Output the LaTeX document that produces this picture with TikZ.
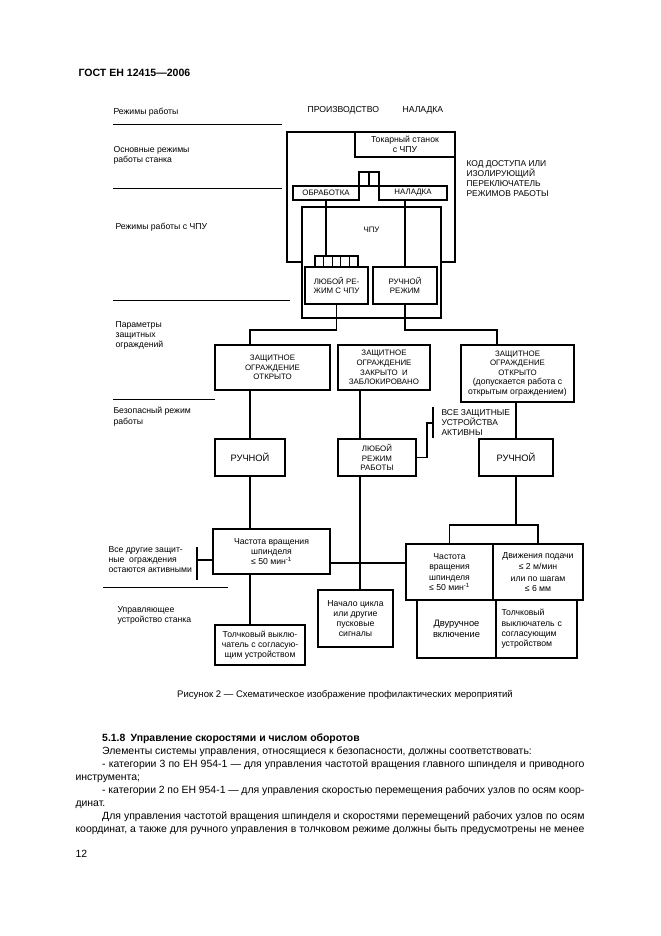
\documentclass[tikz,border=0pt]{standalone}
\usepackage{fontspec}
\setmainfont{Liberation Sans}
\newcommand\petit{\fontsize{7.1}{8.6}\selectfont}
\newcommand\moyen{\fontsize{7.8}{9.2}\selectfont}
\newcommand\gros{\fontsize{8.4}{10}\selectfont}
\newcommand\corps{\fontsize{9.4}{11.7}\selectfont}
\begin{document}
\begin{tikzpicture}[x=0.9pt,y=-0.9pt,line width=1pt,
    boite/.style 2 args={draw,fill=white,inner sep=1pt,minimum width=#1*0.9pt,minimum height=#2*0.9pt,align=center,font=\petit},
    legende/.style={anchor=north west,inner sep=0pt,align=left,font=\moyen},
    regle/.style={line width=0.8pt}]
\fill[white] (0,0) rectangle (661,936);
\useasboundingbox (0,0) rectangle (661,936);
\node[anchor=north west,inner sep=0pt,font=\fontsize{9.5}{11}\selectfont\bfseries] (gost) at (78,69) {ГОСТ ЕН 12415—2006}; %En-tete
% colonne de gauche
\node[legende] (l1) at (113,108) {Режимы работы};
\node[legende] (l2) at (113,146) {Основные режимы\\работы станка};
\node[legende] (l3) at (115,223) {Режимы работы с ЧПУ};
\node[legende] (l4) at (115,321) {Параметры\\защитных\\ограждений};
\node[legende] (l5) at (113,407) {Безопасный режим\\работы};
\node[legende] (l6) at (108,546) {Все другие защит-\\ные\ \ ограждения\\остаются активными};
\node[legende] (l7) at (117,606) {Управляющее\\устройство станка};
\draw[regle] (113,124) -- (282,124);
\draw[regle] (113,188) -- (282,188);
\draw[regle] (113,300) -- (290,300);
\draw[regle] (113,399) -- (215,399);
\draw[regle] (103,587) -- (228,587);
% modes du tour
\node[legende] (prod) at (307,106) {ПРОИЗВОДСТВО};
\node[legende] (nal) at (402,106) {НАЛАДКА};
\node[boite={168}{130}] (cadre) at (371,197) {}; %Cadre principal
\node[boite={100}{25},font=\moyen] (tokar) at (405,144.5) {Токарный станок\\с ЧПУ};
\node[boite={66}{14}] (obrab) at (326,193) {ОБРАБОТКА};
\node[boite={68}{14}] (nalad) at (413,193) {НАЛАДКА};
\foreach \i in {1,2} \node[boite={10}{14}] (s\i) at ({354+10*\i},179) {}; %Commutateur
\node[legende,font=\fontsize{7.6}{9}\selectfont] (code) at (466,160) {КОД ДОСТУПА ИЛИ\\ИЗОЛИРУЮЩИЙ\\ПЕРЕКЛЮЧАТЕЛЬ\\РЕЖИМОВ РАБОТЫ};
% CN
\node[boite={139}{111},label={[anchor=north,yshift=-15pt,font=\petit]north:ЧПУ}] (cnc) at (371.5,262.5) {};
\node[boite={63}{37}] (ljuboj) at (336.5,285.5) {ЛЮБОЙ РЕ-\\ЖИМ С ЧПУ};
\node[boite={64}{37}] (ruchrez) at (405,285.5) {РУЧНОЙ\\РЕЖИМ};
\foreach \i in {1,...,5} \node[boite={8.6}{11}] (k\i) at ({310.7+8.6*\i},261.5) {};
\draw (obrab.south) -- (obrab.south |- k1.north);
\draw (nalad.south -| ruchrez.north) -- (ruchrez.north);
% protecteurs
\coordinate (busg) at (250,330);
\coordinate (busd) at (497,330);
\node[boite={115}{45}] (zashch1) at (272.5,367.5) {ЗАЩИТНОЕ\\ОГРАЖДЕНИЕ\\ОТКРЫТО};
\node[boite={92}{45}] (zashch2) at (384,367.5) {ЗАЩИТНОЕ\\ОГРАЖДЕНИЕ\\ЗАКРЫТО\ \ И\\ЗАБЛОКИРОВАНО};
\node[boite={113}{57}] (zashch3) at (517.5,373.5) {ЗАЩИТНОЕ\\ОГРАЖДЕНИЕ\\ОТКРЫТО\\{\moyen(допускается работа с}\\{\moyen открытым ограждением)}};
\draw (ljuboj.south) |- (busg) -- (busg |- zashch1.north);
\draw (ruchrez.south) |- (busd) -- (busd |- zashch3.north);
% mode sur
\node[boite={70}{37},font=\gros] (ruch1) at (250,457.5) {РУЧНОЙ};
\node[boite={78}{37}] (ljubrab) at (377,457.5) {ЛЮБОЙ\\РЕЖИМ\\РАБОТЫ};
\node[boite={74}{37},font=\gros] (ruch3) at (516,457.5) {РУЧНОЙ};
\coordinate (colm) at (360,0);
\draw (zashch1.south -| ruch1.north) -- (ruch1.north);
\draw (zashch2.south -| colm) -- (ljubrab.north -| colm);
\draw (zashch3.south -| ruch3.north) -- (ruch3.north);
\coordinate (coude) at (427,423);
\coordinate (barre) at (433,423);
\draw (ljubrab.east) -| (coude) -- (barre);
\draw ([yshift=14.4pt]barre) -- ([yshift=-13.5pt]barre);
\node[legende,font=\fontsize{7.6}{9}\selectfont] (actifs) at (441,409) {ВСЕ ЗАЩИТНЫЕ\\УСТРОЙСТВА\\АКТИВНЫ};
% commande
\node[boite={117}{45},font=\moyen] (chast1) at (271.5,551.5) {Частота вращения\\шпинделя\\≤ 50 мин\textsuperscript{-1}};
\node[boite={90}{40},font=\moyen] (tolch1) at (260,645) {Толчковый выклю-\\чатель с согласую-\\щим устройством};
\node[boite={75}{57},font=\moyen] (nachalo) at (355.5,618.5) {Начало цикла\\или другие\\пусковые\\сигналы};
\node[boite={87}{56},font=\moyen] (chast3) at (449.5,572) {Частота\\вращения\\шпинделя\\≤ 50 мин\textsuperscript{-1}};
\node[boite={90}{56},font=\moyen] (dvizh) at (538,572) {Движения подачи\\[1pt]≤ 2 м/мин\\[1pt]или по шагам\\≤ 6 мм};
\node[boite={79}{58},font=\gros] (dvuruch) at (456.5,629) {Двуручное\\включение};
\node[boite={81}{58},font=\moyen,text width=63pt,align=left] (tolch3) at (536.5,629) {Толчковый\\выключатель с\\согласующим\\устройством};
\draw (ruch1.south) -- (ruch1.south |- chast1.north);
\draw (chast1.south -| ruch1.south) -- (tolch1.north -| ruch1.south);
\draw (ljubrab.south -| colm) -- (nachalo.north -| colm);
\coordinate (barg) at (197,560);
\draw (chast1.west |- barg) -- (barg);
\draw ([yshift=11.7pt]barg) -- ([yshift=-18pt]barg);
\coordinate (ligne) at (0,563);
\draw (chast1.east |- ligne) -- (chast3.west |- ligne);
\coordinate (busb) at (0,525);
\draw (ruch3.south) -- (ruch3.south |- busb);
\draw (chast3.north) -- (chast3.north |- busb) -- (dvizh.north |- busb) -- (dvizh.north);
% legende et texte
\node[font=\fontsize{8.6}{10}\selectfont] (titre) at (345,695) {Рисунок 2 — Схематическое изображение профилактических мероприятий};
\node[anchor=north west,inner sep=0pt,font=\corps] (texte) at (75,733) {\parbox[t]{458pt}{\setlength\parindent{24pt}\hyphenpenalty=10000
\textbf{5.1.8\enspace Управление скоростями и числом оборотов}\par
Элементы системы управления, относящиеся к безопасности, должны соответствовать:\par
- категории 3 по ЕН 954-1 — для управления частотой вращения главного шпинделя и приводного\linebreak инструмента;\par
- категории 2 по ЕН 954-1 — для управления скоростью перемещения рабочих узлов по осям коор-\linebreak динат.\par
Для управления частотой вращения шпинделя и скоростями перемещений рабочих узлов по осям\linebreak координат, а также для ручного управления в толчковом режиме должны быть предусмотрены не менее\parfillskip=0pt\par}};
\node[anchor=north west,inner sep=0pt,font=\corps] (page) at (75,850) {12};
\end{tikzpicture}
\end{document}
